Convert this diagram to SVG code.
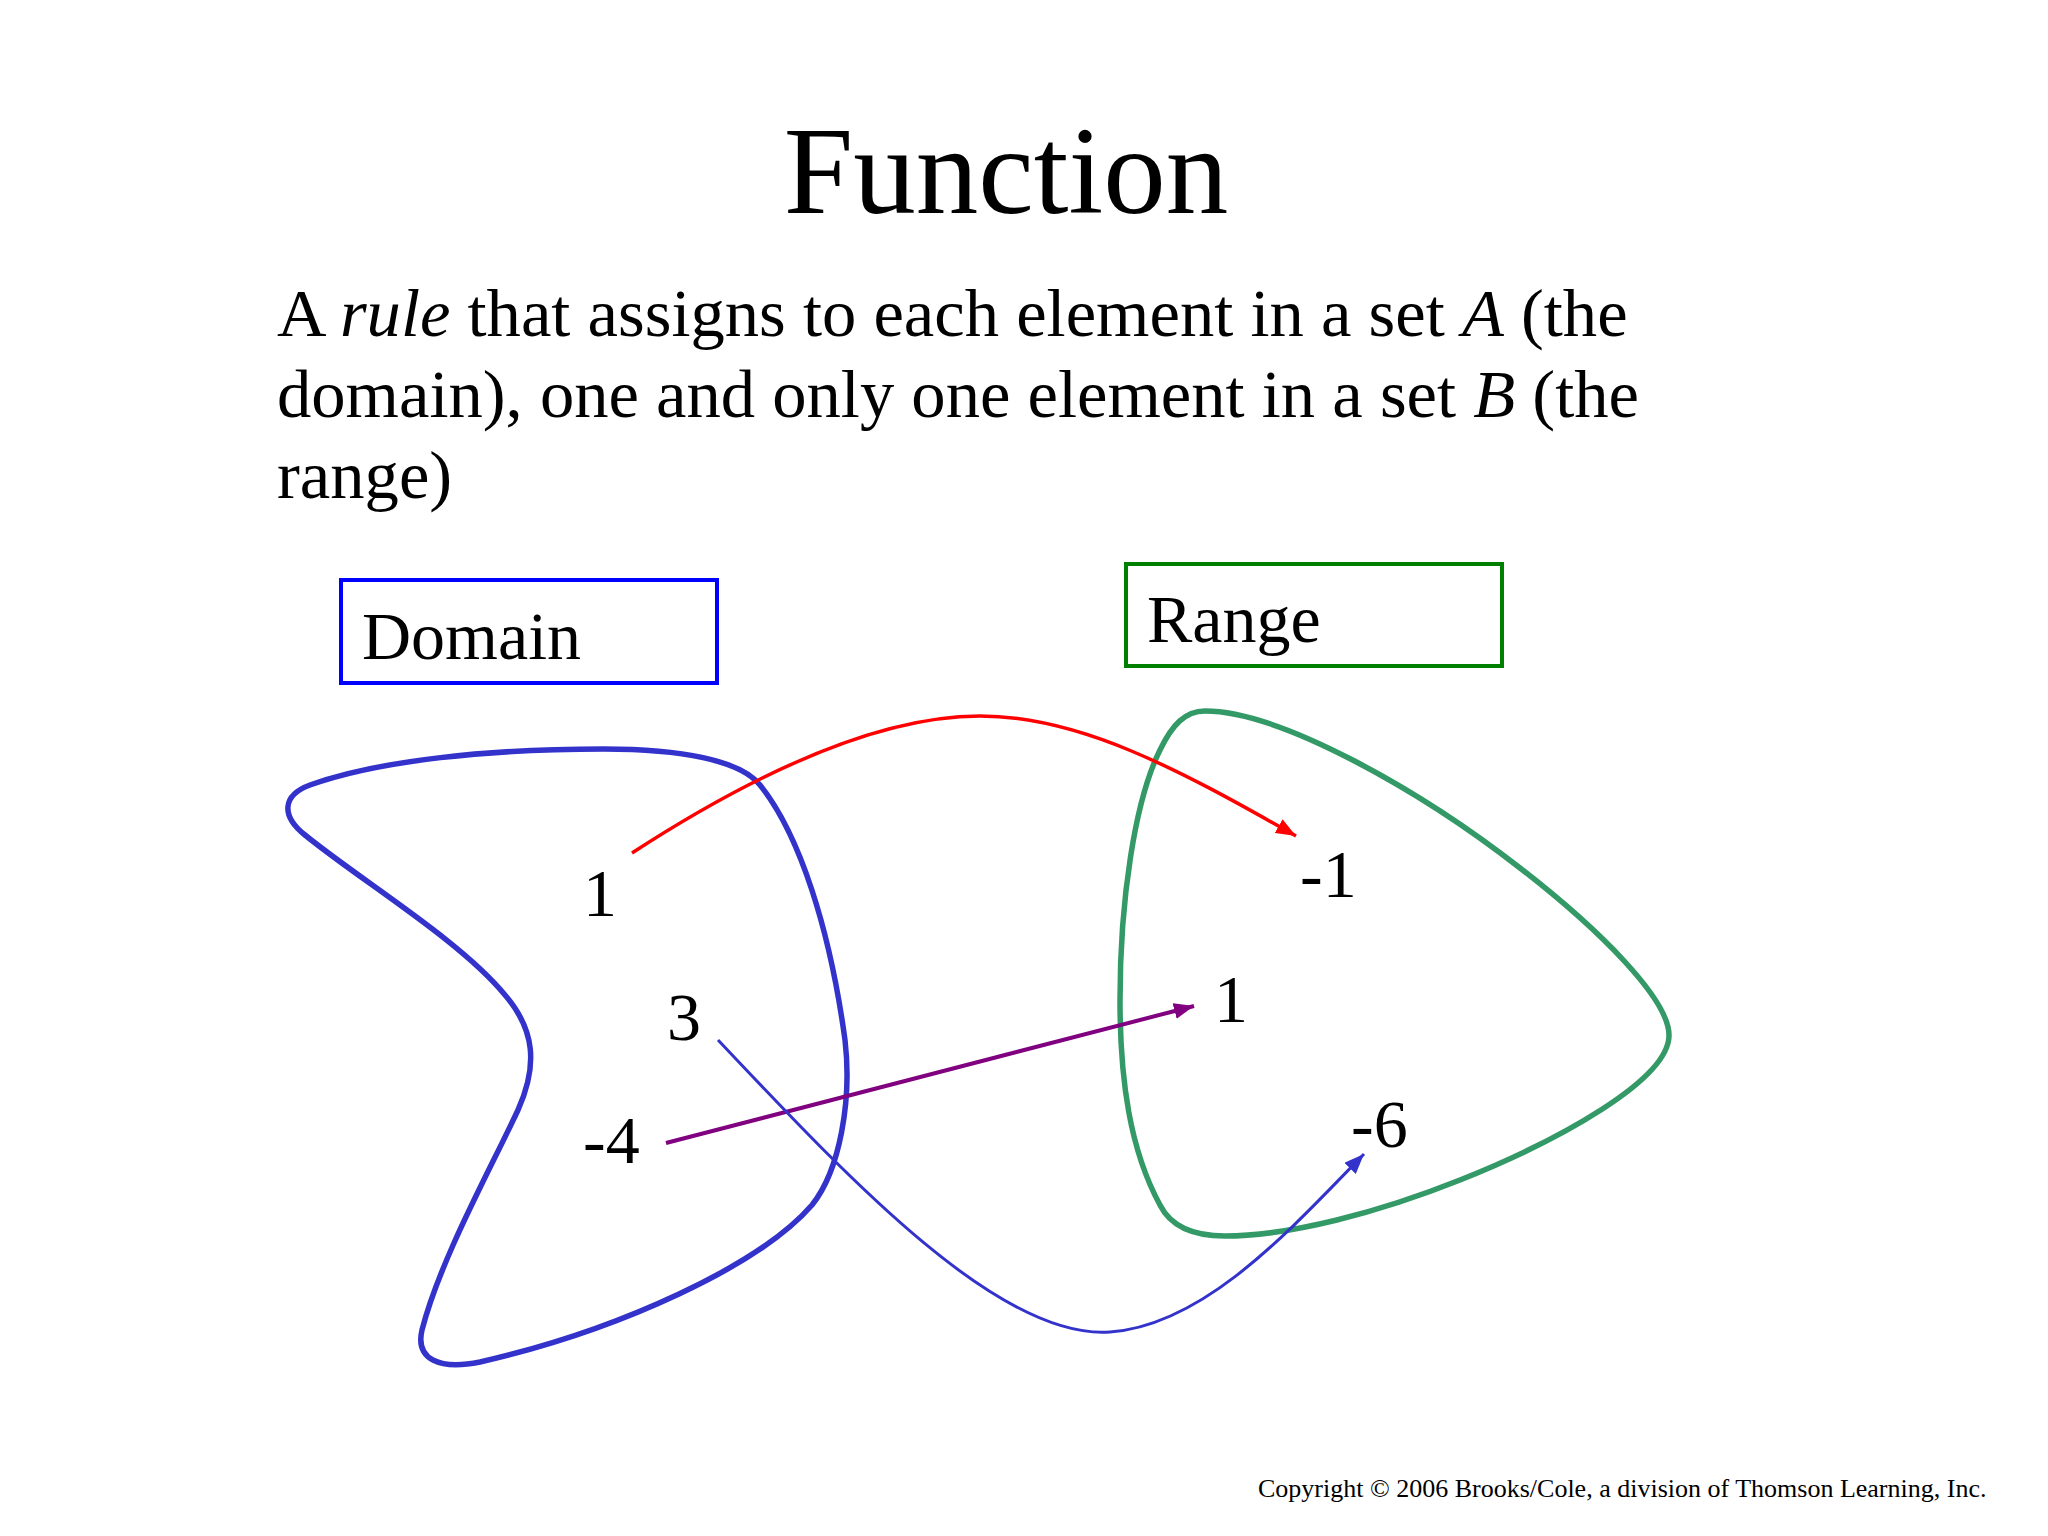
<svg xmlns="http://www.w3.org/2000/svg" width="2048" height="1536" viewBox="0 0 2048 1536">
<style>
text{font-family:"Liberation Serif","Times New Roman",serif;fill:#000}
.blob{fill:none;stroke-width:5.5;stroke-linejoin:round}
.conn{fill:none;stroke-linecap:butt}
</style>
<defs>
<marker id="ahRed" markerUnits="userSpaceOnUse" markerWidth="22" markerHeight="16" refX="20" refY="8" orient="auto"><path d="M0,0 L20,8 L0,16 Z" fill="#FF0000"/></marker>
<marker id="ahPurple" markerUnits="userSpaceOnUse" markerWidth="22" markerHeight="16" refX="20" refY="8" orient="auto"><path d="M0,0 L20,8 L0,16 Z" fill="#800080"/></marker>
<marker id="ahBlue" markerUnits="userSpaceOnUse" markerWidth="22" markerHeight="16" refX="20" refY="8" orient="auto"><path d="M0,0 L20,8 L0,16 Z" fill="#3333CC"/></marker>
</defs>
<rect width="2048" height="1536" fill="#FFFFFF"/>
<text id="title" x="1006" y="213" font-size="125" text-anchor="middle">Function</text>
<g id="definition" font-size="68.6">
<text x="277" y="336">A <tspan font-style="italic">rule</tspan> that assigns to each element in a set <tspan font-style="italic">A</tspan> (the</text>
<text x="277" y="417">domain), one and only one element in a set <tspan font-style="italic">B</tspan> (the</text>
<text x="277" y="498">range)</text>
</g>
<g id="domain-label">
<rect x="341" y="580" width="376" height="103" fill="none" stroke="#0000FF" stroke-width="4"/>
<text x="362" y="659" font-size="68">Domain</text>
</g>
<g id="range-label">
<rect x="1126" y="564" width="376" height="102" fill="none" stroke="#008000" stroke-width="4"/>
<text x="1147" y="642" font-size="68">Range</text>
</g>
<g id="domain-set">
<path class="blob" stroke="#3333CC" d="M 604 749 C 680 749, 740 760, 760 785 C 800 835, 830 930, 845 1040 C 852 1100, 840 1170, 812 1205 C 760 1265, 620 1330, 480 1362 C 440 1370, 415 1360, 422 1330 C 440 1260, 490 1170, 518 1110 C 538 1065, 535 1030, 505 995 C 460 940, 360 880, 305 835 C 280 815, 283 795, 310 785 C 380 760, 490 749, 604 749 Z"/>
</g>
<g id="range-set">
<path class="blob" stroke="#339966" d="M 1205 711 C 1280 711, 1420 790, 1520 868 C 1600 930, 1670 1000, 1669 1036 C 1668 1080, 1560 1140, 1460 1180 C 1380 1212, 1290 1236, 1225 1236 C 1190 1236, 1170 1225, 1160 1205 C 1130 1150, 1120 1080, 1120 1000 C 1120 900, 1135 800, 1160 750 C 1172 725, 1185 711, 1205 711 Z"/>
</g>
<g id="domain-1"><text x="583" y="916" font-size="68">1</text></g>
<g id="domain-3"><text x="667" y="1040" font-size="68">3</text></g>
<g id="domain-neg4"><text x="583" y="1163" font-size="68">-4</text></g>
<g id="range-neg1"><text x="1300" y="897" font-size="68">-1</text></g>
<g id="range-1"><text x="1214" y="1022" font-size="68">1</text></g>
<g id="range-neg6"><text x="1351" y="1147" font-size="68">-6</text></g>
<g id="connectors">
<path class="conn" stroke="#FF0000" stroke-width="3.5" d="M 632 853 C 760 770, 880 716, 980 716 C 1080 716, 1180 770, 1296 836" marker-end="url(#ahRed)"/>
<path class="conn" stroke="#800080" stroke-width="4" d="M 666 1143 L 1194 1006" marker-end="url(#ahPurple)"/>
<path class="conn" stroke="#3333CC" stroke-width="3" d="M 718 1040 C 850 1180, 1000 1340, 1110 1332 C 1205 1325, 1290 1230, 1364 1154" marker-end="url(#ahBlue)"/>
</g>
<text id="copyright" x="1258" y="1497" font-size="26">Copyright © 2006 Brooks/Cole, a division of Thomson Learning, Inc.</text>
</svg>
